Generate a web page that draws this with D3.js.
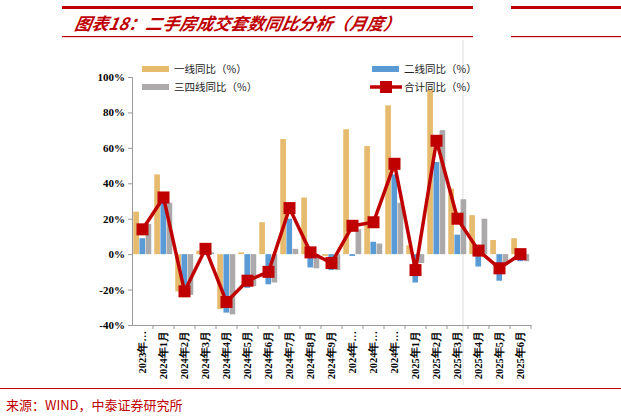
<!DOCTYPE html>
<html><head><meta charset="utf-8">
<script src="https://cdn.jsdelivr.net/npm/d3@7"></script>
<style>body{margin:0;background:#fff}</style></head>
<body><div id="chart"></div>
<script>
const categories = ["2023年…","2024年1月","2024年2月","2024年3月","2024年4月","2024年5月","2024年6月","2024年7月","2024年8月","2024年9月","2024年…","2024年…","2024年…","2025年1月","2025年2月","2025年3月","2025年4月","2025年5月","2025年6月"];
const tier1 = [24,45,-21,2,-31,1,18,65,32,-1,70.5,61,84,5,93,37,22,8,9];
const tier2 = [9,29,-24,2,-33,-19,-17,20,-7.5,-9,-1,7,45,-16,52,11,-7,-15,-4];
const tier34 = [17,29,-23,1,-34,-18,-16,3,-8,-9,14,6,29,-5,70,31,20,-6,-4];
const total = [14,32,-21,3,-27,-15,-10,26,1,-5,16,18,51,-9,64,20,2,-8,0];
const yTicks = [-40,-20,0,20,40,60,80,100];

const W = 621, H = 420;
const svg = d3.select("#chart").append("svg").attr("width", W).attr("height", H);
const serif = "'Liberation Serif','DejaVu Serif',serif";
const cjk = "'Noto Sans CJK SC',sans-serif";

// header / footer rules
svg.append("rect").attr("x", 62).attr("y", 6).attr("width", 411).attr("height", 3).attr("fill", "#c00000");
svg.append("rect").attr("x", 62).attr("y", 36).attr("width", 411).attr("height", 1.2).attr("fill", "#c00000");
svg.append("rect").attr("x", 511).attr("y", 6).attr("width", 110).attr("height", 3).attr("fill", "#c00000");
svg.append("rect").attr("x", 511).attr("y", 36).attr("width", 110).attr("height", 1.2).attr("fill", "#c00000");
svg.append("rect").attr("x", 0).attr("y", 388).attr("width", W).attr("height", 1).attr("fill", "#c00000");
svg.append("text").attr("x", 74).attr("y", 30).attr("fill", "#c00000")
  .attr("font-family", cjk).attr("font-weight", "bold").attr("font-style", "italic")
  .attr("font-size", 17).attr("transform", "skewX(-10) translate(5,0)")
  .text("图表18：二手房成交套数同比分析（月度）");
svg.append("text").attr("x", 6).attr("y", 410).attr("fill", "#c00000")
  .attr("font-family", cjk).attr("font-size", 13).text("来源：WIND，中泰证券研究所");
svg.append("line").attr("x1", 463).attr("x2", 463).attr("y1", 40).attr("y2", 385).attr("stroke", "#ddd");

const idx = categories.map((c, i) => i);
const x = d3.scaleBand().domain(idx).range([132, 531]).paddingInner(0.12).paddingOuter(0.06);
const y = d3.scaleLinear().domain([-40, 100]).range([325, 77]);

const g = svg.append("g");
const bw = x.bandwidth() / 3;
const series = [[tier1, "#e6bb6e", 0], [tier2, "#5b9bd5", 1], [tier34, "#aba9a9", 2]];
series.forEach(([vals, col, k]) => {
  g.selectAll(null).data(vals).enter().append("rect")
    .attr("x", (d, i) => x(i) + k * bw)
    .attr("width", bw * 0.92)
    .attr("y", d => y(Math.max(0, d)))
    .attr("height", d => Math.abs(y(d) - y(0)))
    .attr("fill", col);
});

const ya = svg.append("g").attr("transform", "translate(132,0)")
  .call(d3.axisLeft(y).tickValues(yTicks).tickFormat(d => d + "%").tickSize(4));
ya.selectAll("text").attr("font-family", serif).attr("font-weight", "bold").attr("font-size", 11).attr("fill", "#000");
ya.selectAll("line,path").attr("stroke", "#999");

const xa = svg.append("g").attr("transform", `translate(0,${y(-40)})`)
  .call(d3.axisBottom(x).tickSize(4).tickSizeOuter(0).tickFormat(i => categories[i]));
xa.selectAll("line,path").attr("stroke", "#999");
xa.selectAll(".tick line").attr("transform", `translate(${x.step() / 2},0)`);
xa.selectAll("text").attr("font-family", serif).attr("font-weight", "bold").attr("font-size", 10.5).attr("fill", "#000")
  .attr("transform", "rotate(-90)").attr("text-anchor", "end").attr("x", -6).attr("y", 0).attr("dy", "0.35em");

const cx = (d, i) => x(i) + x.bandwidth() / 2;
svg.append("path").datum(total)
  .attr("d", d3.line().x(cx).y(d => y(d)))
  .attr("fill", "none").attr("stroke", "#c00000").attr("stroke-width", 3.5);
svg.selectAll(null).data(total).enter().append("rect")
  .attr("x", (d, i) => cx(d, i) - 6).attr("y", d => y(d) - 6)
  .attr("width", 12).attr("height", 12).attr("fill", "#c00000");

// legend
const leg = svg.append("g").attr("font-family", cjk).attr("font-size", 10.5).attr("fill", "#222");
const items = [["一线同比（%）", "#e6bb6e", 142, 69, "bar"], ["二线同比（%）", "#5b9bd5", 372, 69, "bar"],
  ["三四线同比（%）", "#aba9a9", 142, 87, "bar"], ["合计同比（%）", "#c00000", 372, 87, "line"]];
items.forEach(([t, c, lx, ly, kind]) => {
  if (kind === "bar") {
    leg.append("rect").attr("x", lx).attr("y", ly - 3).attr("width", 27).attr("height", 6).attr("fill", c);
  } else {
    leg.append("line").attr("x1", lx - 2).attr("x2", lx + 30).attr("y1", ly).attr("y2", ly).attr("stroke", c).attr("stroke-width", 3.5);
    leg.append("rect").attr("x", lx + 8).attr("y", ly - 6).attr("width", 12).attr("height", 12).attr("fill", c);
  }
  leg.append("text").attr("x", lx + 32).attr("y", ly + 4).text(t);
});
</script></body></html>
